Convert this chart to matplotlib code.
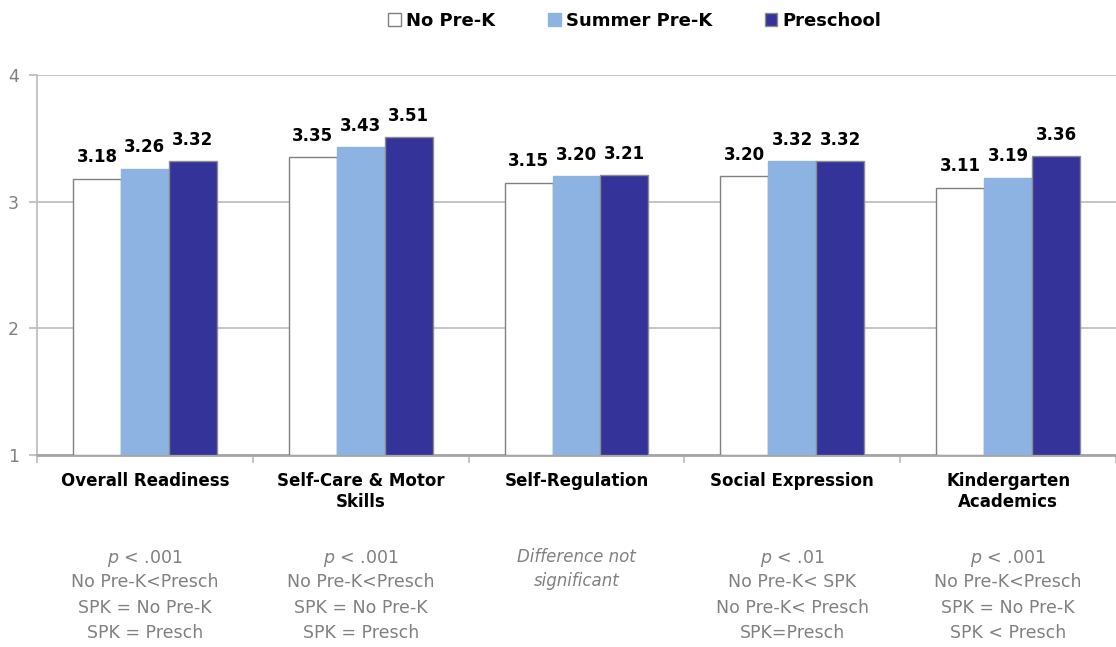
import matplotlib
matplotlib.use("Agg")
import matplotlib.pyplot as plt
import numpy as np
from matplotlib.patches import Patch
from matplotlib.transforms import blended_transform_factory

categories = ["Overall Readiness", "Self-Care & Motor\nSkills", "Self-Regulation",
              "Social Expression", "Kindergarten\nAcademics"]
series_names = ["No Pre-K", "Summer Pre-K", "Preschool"]
no_prek = [3.18, 3.35, 3.15, 3.20, 3.11]
summer_prek = [3.26, 3.43, 3.20, 3.32, 3.19]
preschool = [3.32, 3.51, 3.21, 3.32, 3.36]
notes = [
    ["$\\it{p}$ < .001", "No Pre-K<Presch", "SPK = No Pre-K", "SPK = Presch"],
    ["$\\it{p}$ < .001", "No Pre-K<Presch", "SPK = No Pre-K", "SPK = Presch"],
    None,
    ["$\\it{p}$ < .01", "No Pre-K< SPK", "No Pre-K< Presch", "SPK=Presch"],
    ["$\\it{p}$ < .001", "No Pre-K<Presch", "SPK = No Pre-K", "SPK < Presch"],
]
yticks = [1, 2, 3, 4]

plt.rcParams['font.family'] = ['DejaVu Sans']
plt.rcParams['mathtext.fontset'] = 'dejavusans'

fig = plt.figure(figsize=(11.16, 6.47), dpi=100)
ax = fig.add_axes([37/1116, 1-455/647, 1-37/1116, (455-75)/647])

fills = ["#FFFFFF", "#8DB3E2", "#333399"]
edges = ["#808080", "#8DB3E2", "#8C8C8C"]
data = [no_prek, summer_prek, preschool]
x = np.arange(len(categories))
w = 0.222
for i, (vals, fc, ec) in enumerate(zip(data, fills, edges)):
    pos = x + (i - 1) * w
    ax.bar(pos, [v - 1 for v in vals], bottom=1, width=w, color=fc, edgecolor=ec,
           linewidth=1.0, zorder=3)
    for px, v in zip(pos, vals):
        ax.annotate(f"{v:.2f}", (px, v), xytext=(0, 9), textcoords="offset points",
                    ha="center", va="bottom", fontsize=12, fontweight="bold", color="black")

ax.set_xlim(-0.5, len(categories) - 0.5)
ax.set_ylim(1, 4)
ax.set_yticks(yticks)
ax.set_yticklabels([str(t) for t in yticks], fontsize=12.5, color="#808080")
ax.yaxis.grid(True, color="#BFBFBF", linewidth=1.3, zorder=0)
ax.set_axisbelow(True)
for s in ["top", "right"]:
    ax.spines[s].set_visible(False)
ax.spines["left"].set_color("#BFBFBF")
ax.spines["left"].set_linewidth(1.3)
ax.spines["bottom"].set_color("#A6A6A6")
ax.spines["bottom"].set_linewidth(2)
ax.tick_params(axis="y", length=6, color="#BFBFBF", width=1.3, pad=7)

ax.set_xticks(np.arange(len(categories) + 1) - 0.5)
ax.set_xticklabels([])
ax.tick_params(axis="x", length=6, color="#BFBFBF", width=1.3)

trans = blended_transform_factory(ax.transData, ax.transAxes)
for i, c in enumerate(categories):
    ax.text(i, -0.046, c, transform=trans, ha="center", va="top", fontsize=12,
            fontweight="bold", color="black", linespacing=1.2)
    n = notes[i]
    if n is None:
        ax.text(i, -0.245, "Difference not\nsignificant", transform=trans, ha="center",
                va="top", fontsize=12, style="italic", color="#808080", linespacing=1.45)
    else:
        for j, line in enumerate(n):
            ax.text(i, -0.245 - j * 0.0665, line, transform=trans, ha="center", va="top",
                    fontsize=12.5, color="#808080")

handles = [Patch(facecolor=fc, edgecolor=ec, linewidth=1.0) for fc, ec in zip(fills, edges)]
fig.legend(handles, series_names, loc="upper center", bbox_to_anchor=(0.569, 1.007), ncol=3,
           frameon=False, prop={"weight": "bold", "size": 13}, handlelength=0.7,
           handleheight=0.7, handletextpad=0.3, columnspacing=2.9)

fig.savefig("out.png", dpi=100)
